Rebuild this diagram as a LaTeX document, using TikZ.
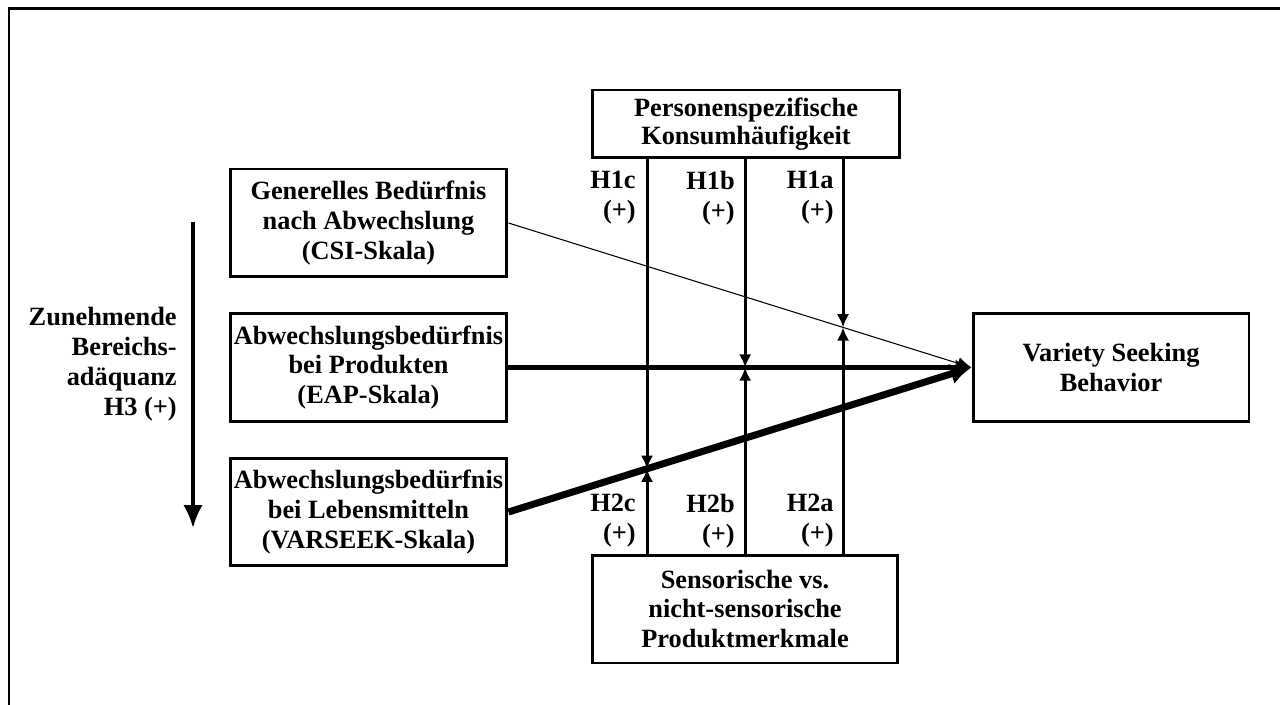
\documentclass[tikz,border=0pt]{standalone}
\usepackage{fontspec}
\setmainfont{Liberation Serif}
\usetikzlibrary{arrows.meta}

\begin{document}
\begin{tikzpicture}[x=0.02cm,y=-0.02cm]
 \tikzset{
  conceptBox/.style={rectangle, draw, line width=1.7pt, inner sep=0pt, align=center,
    minimum width=5.54cm, minimum height=2.16cm, font=\bfseries\fontsize{15}{17}\selectfont},
  hypoLabel/.style={anchor=east, align=right, inner sep=0pt, font=\bfseries\fontsize{15}{17}\selectfont},
  moderator/.style={line width=1.7pt, -{Latex[length=7.5pt,width=7pt]}}
  }
  \useasboundingbox (0,0) rectangle (1280,705);
  % the frame
  \draw[line width=1.7pt] (1280,9) -- (9,9) -- (9,705);

  % the scales
  \node[conceptBox] (gen) at (368.5,223) {Generelles Bedürfnis\\nach Abwechslung\\(CSI-Skala)};
  \node[conceptBox] (eap) at (368.5,367.5) {Abwechslungsbedürfnis\\bei Produkten\\(EAP-Skala)};
  \node[conceptBox] (vsk) at (368.5,512) {Abwechslungsbedürfnis\\bei Lebensmitteln\\(VARSEEK-Skala)};
  % moderators and outcome
  \node[conceptBox, minimum width=6.16cm, minimum height=1.36cm] (pers) at (746,124) {Personenspezifische\\[-1pt]Konsumhäufigkeit};
  \node[conceptBox, minimum width=6.12cm, minimum height=2.16cm] (sens) at (745,609) {Sensorische vs.\\nicht-sensorische\\Produktmerkmale};
  \node[conceptBox, minimum width=5.52cm, minimum height=2.18cm] (vsb) at (1111,367.5) {Variety Seeking\\Behavior};

  % main effects
  \draw[line width=0.6pt, -{Latex[length=8pt,width=7pt]}] (gen.east) -- (vsb.west);
  \draw[line width=2.3pt, -{Latex[length=9pt,width=9pt]}] (eap.east) -- (vsb.west);
  \draw[line width=4pt, -{Latex[length=12pt,width=12pt]}] (vsk.east) -- (vsb.west);

  % where the moderators meet the paths
  \coordinate (mA) at (intersection of gen.east--vsb.west and 843,0--843,700);
  \coordinate (mB) at (intersection of eap.east--vsb.west and 745,0--745,700);
  \coordinate (mC) at (intersection of vsk.east--vsb.west and 647,0--647,700);
  \foreach \m in {mA,mB,mC}{
    \draw[moderator] (pers.south -| \m) -- (\m);
    \draw[moderator] (sens.north -| \m) -- (\m);
  }

  \node[hypoLabel] (h1c) at (636,198) {H1c\\(+)};
  \node[hypoLabel] (h1b) at (735,198) {H1b\\(+)};
  \node[hypoLabel] (h1a) at (834,198) {H1a\\(+)};
  \node[hypoLabel] (h2c) at (636,521) {H2c\\(+)};
  \node[hypoLabel] (h2b) at (735,521) {H2b\\(+)};
  \node[hypoLabel] (h2a) at (834,521) {H2a\\(+)};

  % domain adequacy
  \coordinate (h3Top) at (193,222);
  \coordinate (h3End) at (193,528);
  \draw[line width=2pt, -{Latex[length=13pt,width=11pt]}] (h3Top) -- (h3End);
  \node[hypoLabel] (h3) at (177,364) {Zunehmende\\Bereichs-\\adäquanz\\H3 (+)};
\end{tikzpicture}
\end{document}
